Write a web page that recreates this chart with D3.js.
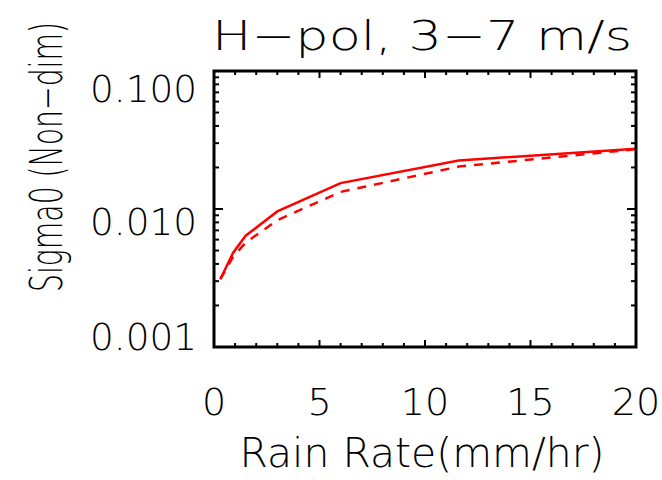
<!DOCTYPE html>
<html>
<head>
<meta charset="utf-8">
<script src="https://cdn.jsdelivr.net/npm/d3@7"></script>
<style>
  html, body { margin: 0; padding: 0; background: #fff; }
  #chart { width: 662px; height: 480px; }
  text { font-family: "DejaVu Sans", sans-serif; font-weight: 300; fill: #000; }
</style>
</head>
<body>
<div id="chart"></div>
<script>
// rain rate (mm/hr) at each model point
const rainRate = [0.3, 0.9, 1.5, 3, 6, 11.6, 20];
// sigma0, solid curve
const sigmaSolid = [0.0031, 0.0048, 0.0064, 0.0096, 0.0154, 0.0225, 0.0273];
// sigma0, dashed curve
const sigmaDashed = [0.0031, 0.0045, 0.0057, 0.0083, 0.0133, 0.0203, 0.0271];

const xTicks = [0, 5, 10, 15, 20];
const yTicks = [0.001, 0.01, 0.1];
const yTickLabels = ["0.001", "0.010", "0.100"];

const titleText = "H\u2212pol, 3\u22127 m/s";
const xTitle = "Rain Rate(mm/hr)";
const yTitle = "Sigma0 (Non\u2212dim)";

const W = 662, H = 480;
const plot = {left: 214, right: 636, top: 71, bottom: 347};

const svg = d3.select("#chart").append("svg")
  .attr("width", W)
  .attr("height", H);

const x = d3.scaleLinear().domain([0, 20]).range([plot.left, plot.right]);
const y = d3.scaleLog().domain([0.001, 0.1]).range([plot.bottom, plot.top]);

// minor ticks
const xMinor = d3.range(0, 21, 1).filter(v => v % 5 !== 0);
const yMinor = [];
[0.001, 0.01].forEach(dec => { for (let k = 2; k <= 9; k++) yMinor.push(dec * k); });

const ax = svg.append("g").attr("stroke", "#000").attr("stroke-width", 2);

// bottom + top ticks (inward)
xTicks.forEach(v => {
  ax.append("line").attr("x1", x(v)).attr("x2", x(v)).attr("y1", plot.bottom).attr("y2", plot.bottom - 7);
  ax.append("line").attr("x1", x(v)).attr("x2", x(v)).attr("y1", plot.top).attr("y2", plot.top + 7);
});
xMinor.forEach(v => {
  ax.append("line").attr("x1", x(v)).attr("x2", x(v)).attr("y1", plot.bottom).attr("y2", plot.bottom - 4);
  ax.append("line").attr("x1", x(v)).attr("x2", x(v)).attr("y1", plot.top).attr("y2", plot.top + 4);
});
// left + right ticks
yTicks.forEach(v => {
  ax.append("line").attr("x1", plot.left).attr("x2", plot.left + 9).attr("y1", y(v)).attr("y2", y(v));
  ax.append("line").attr("x1", plot.right).attr("x2", plot.right - 9).attr("y1", y(v)).attr("y2", y(v));
});
yMinor.forEach(v => {
  ax.append("line").attr("x1", plot.left).attr("x2", plot.left + 5).attr("y1", y(v)).attr("y2", y(v));
  ax.append("line").attr("x1", plot.right).attr("x2", plot.right - 5).attr("y1", y(v)).attr("y2", y(v));
});

// data lines
const line = d3.line().x(d => x(d[0])).y(d => y(d[1]));

svg.append("path")
  .datum(d3.zip(rainRate, sigmaDashed))
  .attr("fill", "none")
  .attr("stroke", "#ff0000")
  .attr("stroke-width", 2.5)
  .attr("stroke-dasharray", "9,8")
  .attr("d", line);

svg.append("path")
  .datum(d3.zip(rainRate, sigmaSolid))
  .attr("fill", "none")
  .attr("stroke", "#ff0000")
  .attr("stroke-width", 2.5)
  .attr("d", line);

// box
svg.append("rect")
  .attr("x", plot.left).attr("y", plot.top)
  .attr("width", plot.right - plot.left).attr("height", plot.bottom - plot.top)
  .attr("fill", "none").attr("stroke", "#000").attr("stroke-width", 3);

// tick labels
svg.selectAll("text.xt").data(xTicks).enter().append("text")
  .attr("class", "xt")
  .attr("x", d => x(d))
  .attr("y", 415)
  .attr("text-anchor", "middle")
  .style("font-size", "38px")
  .text(d => d);

// IDL shifts the y labels a little differently at each end
const yLabelShift = [3, 26, 31];
svg.selectAll("text.yt").data(yTicks).enter().append("text")
  .attr("class", "yt")
  .attr("x", 197)
  .attr("y", (d, i) => y(d) + yLabelShift[i])
  .attr("text-anchor", "end")
  .attr("textLength", 107)
  .attr("lengthAdjust", "spacingAndGlyphs")
  .style("font-size", "37px")
  .text((d, i) => yTickLabels[i]);

// titles
svg.append("text")
  .attr("x", 212).attr("y", 50)
  .attr("textLength", 420)
  .attr("lengthAdjust", "spacingAndGlyphs")
  .style("font-size", "41px")
  .text(titleText);

svg.append("text")
  .attr("x", 422).attr("y", 467)
  .attr("text-anchor", "middle")
  .attr("textLength", 365)
  .attr("lengthAdjust", "spacingAndGlyphs")
  .style("font-size", "41px")
  .text(xTitle);

// y title: squeeze along its length with a transform, so its box stays honest
const yt = svg.append("text")
  .attr("text-anchor", "middle")
  .style("font-size", "44px")
  .text(yTitle);
const natural = yt.node().getComputedTextLength();
const sx = 270 / natural;
yt.attr("transform", `translate(62,157) rotate(-90) scale(${sx},1)`);
</script>
</body>
</html>
